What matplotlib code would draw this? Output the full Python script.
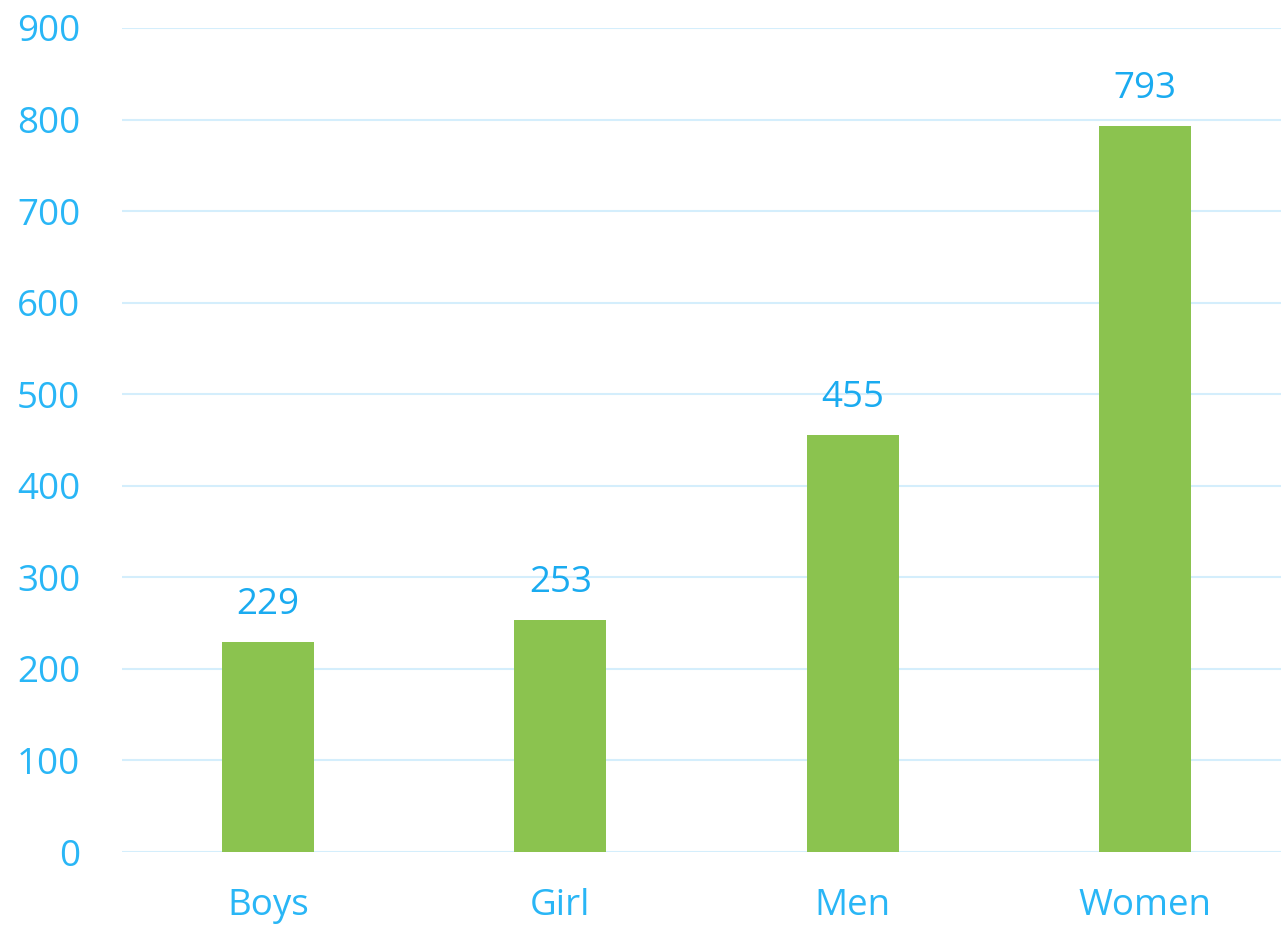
import matplotlib.pyplot as plt
import numpy as np

categorias = ['Boys', 'Girl', 'Men', 'Women']
valores = [229, 253, 455, 793]
ticks_y = [0, 100, 200, 300, 400, 500, 600, 700, 800, 900]

plt.rcParams['font.family'] = ['Open Sans', 'DejaVu Sans']

azul = '#29B6F6'
verde = '#8BC34F'

fig = plt.figure(figsize=(12.81, 9.27), dpi=100)
ax = fig.add_axes([0.0952, 0.0809, 0.9048, 0.8889])

x = np.arange(len(categorias))
barras = ax.bar(x, valores, width=0.315, color=verde, zorder=3)

# rotulos acima das barras
for xi, v in zip(x, valores):
    ax.annotate(str(v), (xi, v), xytext=(0, 14), textcoords='offset points',
                ha='center', va='bottom', fontsize=26.5, color='#1AABF0')

ax.set_xlim(-0.5, 3.465)
ax.set_ylim(0, 900)
ax.set_yticks(ticks_y)
ax.set_xticks(x, categorias)
ax.grid(axis='y', color='#D4EEFC', linewidth=1.5, zorder=0)
ax.set_axisbelow(True)
for s in ax.spines.values():
    s.set_visible(False)
ax.tick_params(axis='both', length=0, labelsize=26.5, labelcolor=azul)
ax.tick_params(axis='y', pad=30)
ax.tick_params(axis='x', pad=26)

fig.savefig('out.png', dpi=100)
